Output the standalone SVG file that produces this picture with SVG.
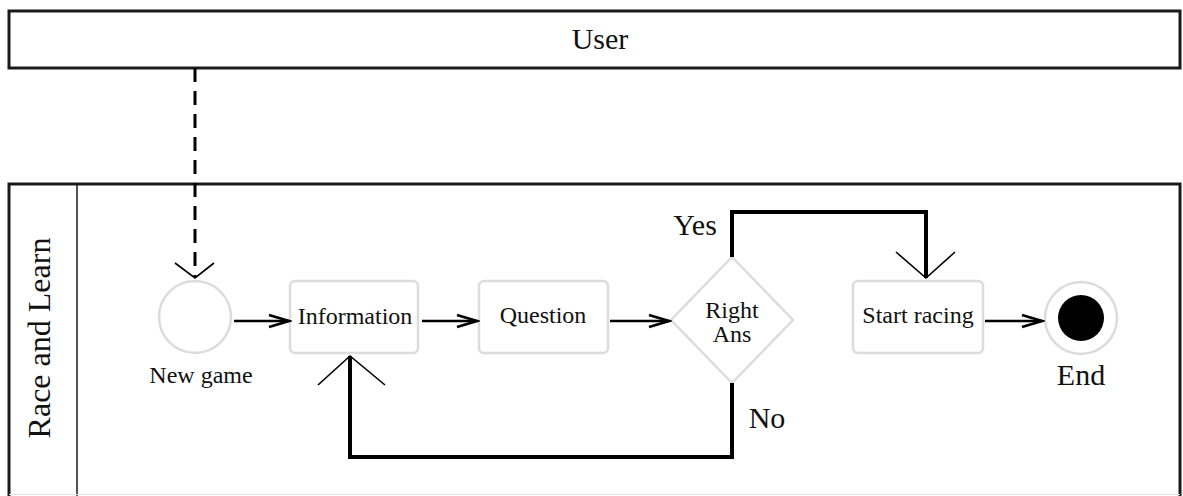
<svg xmlns="http://www.w3.org/2000/svg" width="1183" height="496" viewBox="0 0 1183 496">
  <style>
    text { font-family: "Liberation Serif", "Times New Roman", serif; fill: #111; }
    .pool { fill: #fff; stroke: #1a1a1a; stroke-width: 3; }
    .node { fill: #fff; stroke: #dcdcdc; stroke-width: 2.5; }
    .label { font-size: 24px; text-anchor: middle; }
    .big { font-size: 30px; text-anchor: middle; }
    .flow { fill: none; stroke: #000; stroke-width: 2.4; marker-end: url(#chev); }
    .route { fill: none; stroke: #000; stroke-width: 4; }
    .head { fill: none; stroke: #000; stroke-width: 1.6; }
  </style>
  <defs>
    <!-- barbed open arrowhead for the sequence flows -->
    <marker id="chev" markerUnits="userSpaceOnUse" markerWidth="26" markerHeight="18" refX="23" refY="9" orient="auto">
      <path d="M3,3 L23,9 L3,15" fill="none" stroke="#000" stroke-width="2.8" stroke-linejoin="miter"/>
    </marker>
  </defs>

  <!-- User pool -->
  <g id="user">
    <rect class="pool" x="9" y="11" width="1171" height="57"/>
    <text class="big" x="600" y="49">User</text>
  </g>

  <!-- Race and Learn lane -->
  <g id="lane">
    <rect x="9" y="184" width="1171" height="311" fill="#fff"/>
    <path d="M9,496 V184 H1180 V496" fill="none" stroke="#1a1a1a" stroke-width="3"/>
    <line x1="77" y1="184" x2="77" y2="496" stroke="#1a1a1a" stroke-width="1.5"/>
    <line x1="9" y1="494.5" x2="1180" y2="494.5" stroke="#e4e4e4" stroke-width="1"/>
    <text transform="translate(50,338) rotate(-90)" font-size="32" text-anchor="middle">Race and Learn</text>
  </g>

  <!-- Nodes -->
  <g id="start">
    <circle class="node" cx="195" cy="317" r="36"/>
    <text class="label" x="201" y="383">New game</text>
  </g>
  <g id="information">
    <rect class="node" x="290" y="281" width="128" height="72" rx="5"/>
    <text class="label" x="355" y="324">Information</text>
  </g>
  <g id="question">
    <rect class="node" x="479" y="281" width="129" height="72" rx="5"/>
    <text class="label" x="543" y="323">Question</text>
  </g>
  <g id="decision">
    <polygon class="node" points="732,257 793,320 732,383 671,320"/>
    <text class="label" x="732" y="318">Right</text>
    <text class="label" x="732" y="342">Ans</text>
  </g>
  <g id="racing">
    <rect class="node" x="853" y="281" width="130" height="72" rx="5"/>
    <text class="label" x="918" y="323">Start racing</text>
  </g>
  <g id="end">
    <circle class="node" cx="1081" cy="318" r="36"/>
    <circle cx="1081" cy="318" r="23" fill="#000"/>
    <text class="big" x="1081" y="385">End</text>
  </g>

  <!-- Connectors -->
  <g id="connectors">
    <line x1="195" y1="68" x2="195" y2="277" stroke="#000" stroke-width="3" stroke-dasharray="14,9"/>
    <path class="head" d="M175,263 L195,278 L214,263"/>

    <line class="flow" x1="234" y1="321" x2="289" y2="321"/>
    <line class="flow" x1="422" y1="321" x2="477" y2="321"/>
    <line class="flow" x1="610" y1="321" x2="669" y2="321"/>
    <line class="flow" x1="985" y1="321" x2="1042" y2="321"/>

    <path class="route" d="M732,257 V212 H926 V278"/>
    <path class="head" d="M896,252 L926,278 L955,252"/>
    <text class="big" x="695" y="235">Yes</text>

    <path class="route" d="M732,383 V457 H350 V356"/>
    <path class="head" d="M318,385 L350,356 L385,385"/>
    <text class="big" x="767" y="428">No</text>
  </g>
</svg>
